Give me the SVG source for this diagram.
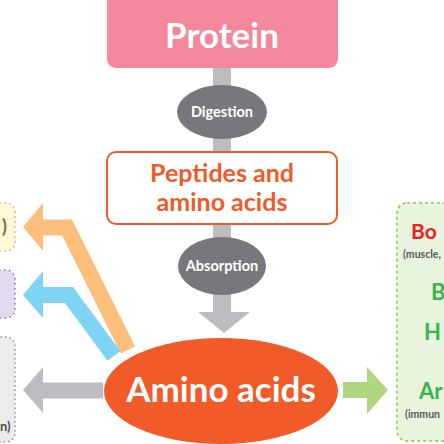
<svg xmlns="http://www.w3.org/2000/svg" width="444" height="444" viewBox="0 0 444 444">
<style>
  .bold { font-family: Lato, "Open Sans", sans-serif; font-weight: bold; }
  .white { fill: #ffffff; }
  .shaft { fill: none; stroke-linejoin: miter; stroke-linecap: butt; stroke-width: 16; }
</style>
<rect width="444" height="444" fill="#ffffff"/>
<g id="connectors">
  <rect x="213" y="60" width="18" height="253" fill="#bcbdc0"/>
  <polygon points="198,312 250,312 224,333" fill="#bcbdc0"/>
  <path class="shaft" d="M40,227.5 L67,227.5 L128,350" stroke="#fdbe7e"/>
  <polygon points="23,227 43,203 43,251" fill="#fdbe7e"/>
  <path class="shaft" d="M40,295 L69,295 L114,356" stroke="#7fd4f4"/>
  <polygon points="23,295 43,271 43,318" fill="#7fd4f4"/>
  <rect x="40" y="382.5" width="63" height="16" fill="#bcbdc0"/>
  <polygon points="23,390 43,367 43,413" fill="#bcbdc0"/>
  <rect x="343" y="382" width="26" height="16" fill="#b0d67f"/>
  <polygon points="367,367 388,390 367,414" fill="#b0d67f"/>
</g>
<g id="protein">
  <rect x="107" y="-8" width="231" height="76" rx="9" fill="#f3879c"/>
  <text class="bold white" x="222" y="48" font-size="35" text-anchor="middle">Protein</text>
</g>
<g id="digestion">
  <ellipse cx="222" cy="112" rx="45" ry="27" fill="#78787c"/>
  <text class="bold white" x="222" y="117" font-size="14.5" text-anchor="middle">Digestion</text>
</g>
<g id="peptides">
  <rect x="107" y="152" width="230" height="72" rx="9" fill="#ffffff" stroke="#f05a28" stroke-width="2"/>
  <text class="bold" x="222" y="182" font-size="25" fill="#f05a28" text-anchor="middle">Peptides and</text>
  <text class="bold" x="222" y="211" font-size="25" fill="#f05a28" text-anchor="middle">amino acids</text>
</g>
<g id="absorption">
  <ellipse cx="222" cy="266" rx="44" ry="29" fill="#78787c"/>
  <text class="bold white" x="222" y="271" font-size="14.5" text-anchor="middle">Absorption</text>
</g>
<g id="amino-acids">
  <ellipse cx="221" cy="391" rx="117" ry="53" fill="#f15a29"/>
  <text class="bold white" x="221" y="402" font-size="35" text-anchor="middle">Amino acids</text>
</g>
<g id="left-top">
  <rect x="-40" y="203" width="55" height="48" rx="9" fill="#fff8d6" stroke="#d9b98a" stroke-width="1.5" stroke-dasharray="2,3"/>
  <text class="bold" x="2" y="233" font-size="18" fill="#8b5e3c">)</text>
</g>
<g id="left-middle">
  <rect x="-40" y="270" width="55" height="48" rx="9" fill="#e2dbef" stroke="#8a68b4" stroke-width="1.5" stroke-dasharray="1.5,3.5"/>
</g>
<g id="left-bottom">
  <rect x="-40" y="337" width="55" height="105" rx="9" fill="#ececed" stroke="#8e8e90" stroke-width="1.5" stroke-dasharray="1.5,3"/>
  <text class="bold" x="0" y="431" font-size="13" fill="#4d4d4f">n)</text>
</g>
<g id="right-box">
  <rect x="397" y="203" width="100" height="238" rx="10" fill="#e9f4de" stroke="#8dc63f" stroke-width="1.5" stroke-dasharray="3,3"/>
  <text class="bold" x="411" y="239" font-size="21" fill="#ee1c25">Bo</text>
  <text class="bold" x="403" y="258" font-size="10.5" fill="#58595b">(muscle,</text>
  <text class="bold" x="431" y="300" font-size="22" fill="#39b54a">B</text>
  <text class="bold" x="424" y="340" font-size="22" fill="#39b54a">H</text>
  <text class="bold" x="419" y="399" font-size="22" fill="#39b54a">Ar</text>
  <text class="bold" x="405" y="418" font-size="10.5" fill="#58595b">(immun</text>
</g>
</svg>
